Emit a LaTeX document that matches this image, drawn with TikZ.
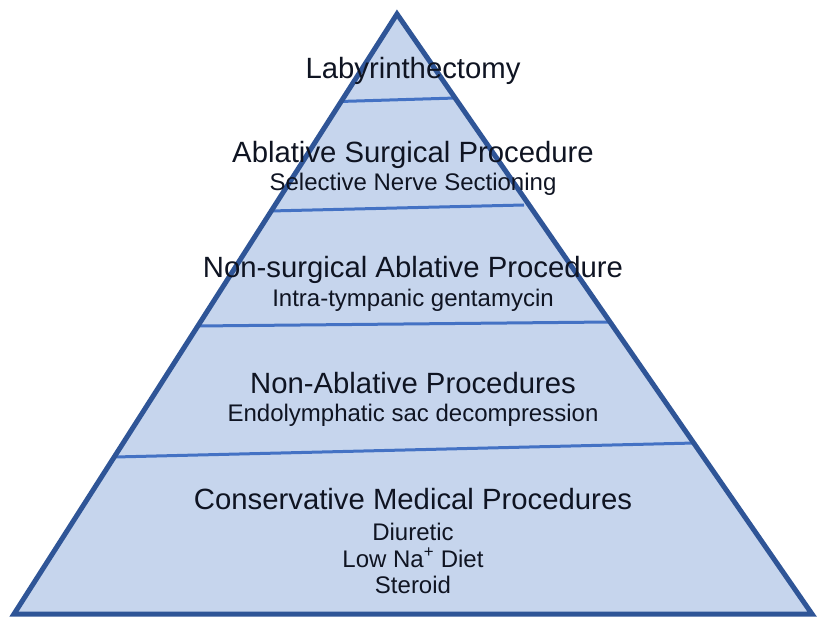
\documentclass[tikz,border=0pt]{standalone}
\usepackage{fontspec}
\setmainfont{Liberation Sans}
\definecolor{fillblue}{HTML}{C6D5ED}
\definecolor{edgeblue}{HTML}{2F5597}
\definecolor{divblue}{HTML}{4472C4}
\definecolor{txt}{HTML}{0F1422}
\begin{document}
\begin{tikzpicture}[x=1pt,y=-1pt,
  title/.style={text=txt,font=\fontsize{29.3}{32}\selectfont,inner sep=0pt,anchor=base},
  sub/.style={text=txt,font=\fontsize{24}{26}\selectfont,inner sep=0pt,anchor=base},
  divider/.style={draw=divblue,line width=3pt},
  outline/.style={draw=edgeblue,line width=5pt,line join=miter}]
\useasboundingbox (0,0) rectangle (819,620);
% triangle
\coordinate (apex) at (397,14);
\coordinate (bl) at (14,614);
\coordinate (br) at (812,614);
\fill[fillblue] (apex) -- (bl) -- (br) -- cycle;
% dividers
\coordinate (d1l) at (340,101.5);
\coordinate (d1r) at (456,98);
\coordinate (d2l) at (270,211);
\coordinate (d2r) at (524,205);
\coordinate (d3l) at (197,326);
\coordinate (d3r) at (610,322);
\coordinate (d4l) at (115,457);
\coordinate (d4r) at (695,443);
\draw[divider] (d1l) -- (d1r);
\draw[divider] (d2l) -- (d2r);
\draw[divider] (d3l) -- (d3r);
\draw[divider] (d4l) -- (d4r);
\draw[outline] (apex) -- (bl) -- (br) -- cycle;
% texts
\node[title] (t1) at (413,79) {Labyrinthectomy};
\node[title] (t2) at (413,163) {Ablative Surgical Procedure};
\node[sub] (s2) at (413,191) {Selective Nerve Sectioning};
\node[title] (t3) at (413,278) {Non-surgical Ablative Procedure};
\node[sub] (s3) at (413,306) {Intra-tympanic gentamycin};
\node[title] (t4) at (413,393) {Non-Ablative Procedures};
\node[sub] (s4) at (413,421) {Endolymphatic sac decompression};
\node[title] (t5) at (413,509) {Conservative Medical Procedures};
\node[sub] (s5a) at (413,540) {Diuretic};
\node[sub] (s5b) at (413,567) {Low Na\textsuperscript{+} Diet};
\node[sub] (s5c) at (413,593) {Steroid};
\end{tikzpicture}
\end{document}
